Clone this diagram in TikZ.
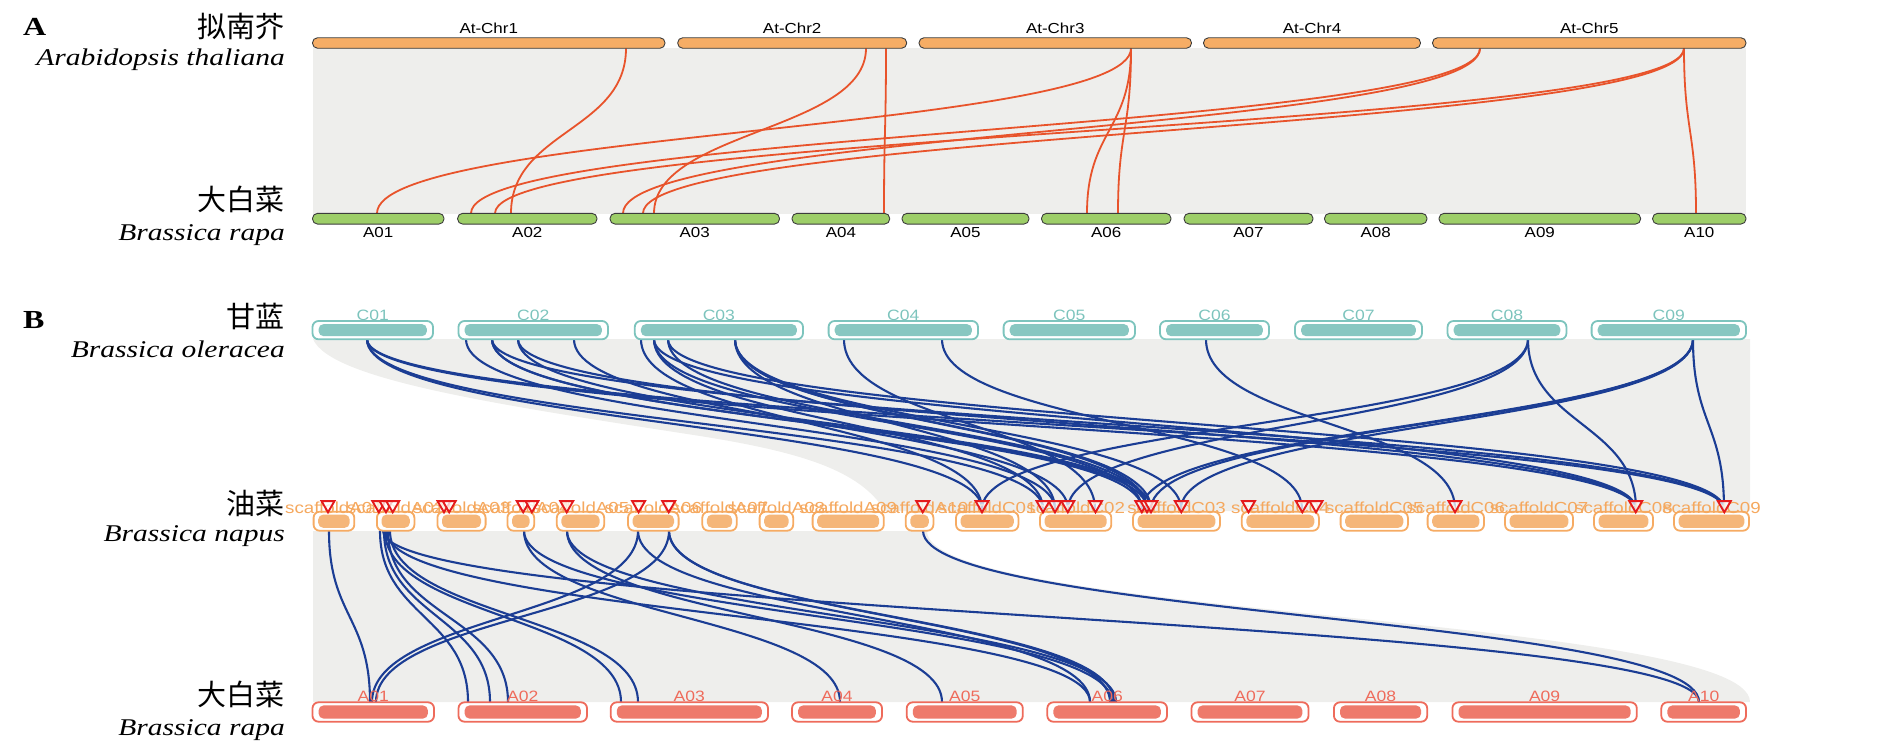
\documentclass[tikz,border=0pt]{standalone}
\usepackage{fontspec}
\usetikzlibrary{shapes.geometric}
\newfontfamily\serifw[FakeStretch=1.23]{Liberation Serif}
\newfontfamily\sansw[FakeStretch=1.17]{Liberation Sans}
\newfontfamily\cjk{Noto Sans CJK SC}
\definecolor{atfill}{HTML}{F6AD65}
\definecolor{brfill}{HTML}{9DCE68}
\definecolor{barline}{HTML}{3C3C3C}
\definecolor{tealc}{HTML}{88C7C1}
\definecolor{tealline}{HTML}{7DC4BD}
\definecolor{napfill}{HTML}{F5B679}
\definecolor{napline}{HTML}{F6AB63}
\definecolor{naptext}{HTML}{F5A85E}
\definecolor{raffill}{HTML}{EE7A6B}
\definecolor{rafline}{HTML}{EE6B5B}
\definecolor{redl}{HTML}{E8532B}
\definecolor{bluel}{HTML}{1B3D94}
\definecolor{trired}{HTML}{E41A1C}
\definecolor{ribbon}{HTML}{EEEEEC}
\begin{document}
\begin{tikzpicture}[x=1pt,y=-1pt,
  cn/.style={font=\cjk\fontsize{29}{32}\selectfont, anchor=base east, inner sep=0},
  sp/.style={font=\serifw\itshape\fontsize{24}{28}\selectfont, anchor=base east, inner sep=0},
  panel/.style={font=\serifw\bfseries\fontsize{26}{28}\selectfont, anchor=base west, inner sep=0},
  chrlab/.style={font=\sansw\fontsize{14.5}{16}\selectfont, anchor=base, inner sep=0},
  atbar/.style={draw=barline, fill=atfill, line width=0.9pt, rounded corners=5pt, minimum height=10.5pt, inner sep=0},
  brbar/.style={draw=barline, fill=brfill, line width=0.9pt, rounded corners=5pt, minimum height=10.7pt, inner sep=0},
  cbox/.style={draw=tealline, fill=white, line width=1.8pt, rounded corners=6pt, minimum height=18.3pt, inner sep=0},
  nbox/.style={draw=napline, fill=white, line width=1.8pt, rounded corners=6pt, minimum height=19pt, inner sep=0},
  rbox/.style={draw=rafline, fill=white, line width=1.8pt, rounded corners=6pt, minimum height=19.4pt, inner sep=0},
  clab/.style={font=\sansw\fontsize{15}{17}\selectfont, text=tealline, anchor=base, inner sep=0},
  nlab/.style={font=\sansw\fontsize{16}{18}\selectfont, text=naptext, anchor=base, inner sep=0},
  rlab/.style={font=\sansw\fontsize{15}{17}\selectfont, text=rafline, anchor=base, inner sep=0},
  redlink/.style={draw=redl, line width=1.8pt},
  bluelink/.style={draw=bluel, line width=2.1pt},
  tri/.style={regular polygon, regular polygon sides=3, shape border rotate=180, draw=trired, fill=white, fill opacity=0.75, draw opacity=1, line width=1.9pt, minimum size=15pt, inner sep=0}
]
\useasboundingbox (0,0) rectangle (1890,755);

% ---------- panel A ----------
\fill[ribbon] (313,48) rectangle (1746,213.5);
\node[panel] (pa) at (23,35) {A};
\node[cn] (atcn) at (285,37) {拟南芥};
\node[sp] (atsp) at (285,65) {Arabidopsis thaliana};
\node[cn] (brcnA) at (285,210) {大白菜};
\node[sp] (brspA) at (285,240) {Brassica rapa};

\foreach \a/\b in {626/511, 1131/377, 1131/1087, 1131/1118, 866/654, 886/884,
                   1480/471, 1480/623, 1684/495, 1684/643, 1684/1696}
  \draw[redlink] (\a,48.3) coordinate (rs) .. controls (\a,130.8) and (\b,130.8) .. (\b,213.3) coordinate (re);

\foreach \n/\cx/\w/\t in {at1/488.75/352.5/At-Chr1, at2/792.2/229/At-Chr2, at3/1055.25/272.5/At-Chr3,
                          at4/1312/217/At-Chr4, at5/1589.25/313.5/At-Chr5} {
  \node[atbar, minimum width=\w pt] (\n) at (\cx,43) {};
  \node[chrlab] (\n-l) at (\cx,33.3) {\t};
}
\foreach \n/\cx/\w/\t in {ga1/378.25/131.5/A01, ga2/527.3/139.4/A02, ga3/694.75/169.5/A03,
                          ga4/840.85/97.7/A04, ga5/965.5/127/A05, ga6/1106.25/129.5/A06,
                          ga7/1248.5/129/A07, ga8/1375.75/102.5/A08, ga9/1539.8/201.6/A09,
                          ga10/1699.3/93.4/A10} {
  \node[brbar, minimum width=\w pt] (\n) at (\cx,218.7) {};
  \node[chrlab] (\n-l) at (\cx,237.3) {\t};
}

% ---------- panel B ----------
\fill[ribbon] (313,339) -- (1750,339) -- (1750,511) -- (885,511)
  .. controls (860,470) and (800,452) .. (700,436)
  .. controls (500,405) and (330,380) .. (313,339) -- cycle;
\fill[ribbon] (313,531) -- (927,531) .. controls (927,616.5) and (1750,616.5) .. (1750,702) -- (313,702) -- cycle;

\node[panel] (pb) at (23,328) {B};
\node[cn] (olcn) at (285,327) {甘蓝};
\node[sp] (olsp) at (285,357) {Brassica oleracea};
\node[cn] (nacn) at (285,514) {油菜};
\node[sp] (nasp) at (285,541) {Brassica napus};
\node[cn] (brcnB) at (285,705) {大白菜};
\node[sp] (brspB) at (285,735) {Brassica rapa};

% links C -> napus
\foreach \a/\b in {367/982, 367/1043, 367/1636, 367/1724,
                   466/1055, 492/1142, 492/1147, 492/1724, 518/1151, 518/1636, 574/1068,
                   641/982, 654/1043, 654/1142, 654/1636, 668/1147, 668/1724,
                   735/1055, 735/1147, 735/1151, 735/1181,
                   844/1095, 942/1302, 1206/1455,
                   1528/982, 1528/1068, 1528/1636,
                   1693/1142, 1693/1151, 1693/1181, 1693/1724}
  \draw[bluelink] (\a,339.3) coordinate (bs) .. controls (\a,424) and (\b,424) .. (\b,509) coordinate (be);
% links napus -> rapa
\foreach \a/\b in {329/370, 380/468, 384/490, 388/508, 385/621, 390/638,
                   638/372, 669/376, 383/1699, 386/1090, 524/840, 567/942,
                   638/1090, 669/1110, 669/1114, 524/1112, 567/1116, 923/1699}
  \draw[bluelink] (\a,530.7) coordinate (bs) .. controls (\a,616.4) and (\b,616.4) .. (\b,702) coordinate (be);

% oleracea boxes
\foreach \n/\cx/\w/\t in {c1/372.75/120.5/C01, c2/533.25/149.5/C02, c3/718.9/168.2/C03,
                          c4/903.3/149.4/C04, c5/1069.3/131.4/C05, c6/1214.5/109/C06,
                          c7/1358.5/127/C07, c8/1507/118.9/C08, c9/1668.8/154.4/C09} {
  \node[cbox, minimum width=\w pt] (\n) at (\cx,330.15) {};
  \fill[tealc, rounded corners=5pt] ([xshift=7pt,yshift=4pt]\n.south west) rectangle ([xshift=-7pt,yshift=-4pt]\n.north east);
  \node[clab] (\n-l) at (\cx,320) {\t};
}
% napus boxes
\foreach \n/\cx/\w/\t in {n1/333.95/40.7/scaffoldA01, n2/395.65/37.5/scaffoldA02, n3/461.5/48.2/scaffoldA03,
                          n4/520.8/26.8/scaffoldA04, n5/580.5/47.4/scaffoldA05, n6/653.3/50.6/scaffoldA06,
                          n7/719.5/34.4/scaffoldA07, n8/776.4/33.6/scaffoldA08, n9/848.2/71.2/scaffoldA09,
                          n10/919.55/27.7/scaffoldA10, n11/987.2/62.4/scaffoldC01, n12/1075.65/71.3/scaffoldC02,
                          n13/1176.5/87/scaffoldC03, n14/1280.35/77.1/scaffoldC04, n15/1374.25/67.3/scaffoldC05,
                          n16/1455.8/56.4/scaffoldC06, n17/1539/68/scaffoldC07, n18/1623.5/59/scaffoldC08,
                          n19/1711.5/75/scaffoldC09} {
  \node[nbox, minimum width=\w pt] (\n) at (\cx,521.2) {};
  \fill[napfill, rounded corners=5pt] ([xshift=5.5pt,yshift=3.8pt]\n.south west) rectangle ([xshift=-5.5pt,yshift=-3.8pt]\n.north east);
}
\foreach \n/\cx/\w/\t in {n1/333.95/40.7/scaffoldA01, n2/395.65/37.5/scaffoldA02, n3/461.5/48.2/scaffoldA03,
                          n4/520.8/26.8/scaffoldA04, n5/580.5/47.4/scaffoldA05, n6/653.3/50.6/scaffoldA06,
                          n7/719.5/34.4/scaffoldA07, n8/776.4/33.6/scaffoldA08, n9/848.2/71.2/scaffoldA09,
                          n10/919.55/27.7/scaffoldA10, n11/987.2/62.4/scaffoldC01, n12/1075.65/71.3/scaffoldC02,
                          n13/1176.5/87/scaffoldC03, n14/1280.35/77.1/scaffoldC04, n15/1374.25/67.3/scaffoldC05,
                          n16/1455.8/56.4/scaffoldC06, n17/1539/68/scaffoldC07, n18/1623.5/59/scaffoldC08,
                          n19/1711.5/75/scaffoldC09}
  \node[nlab] (\n-l) at (\cx,513) {\t};
% markers
\foreach \x [count=\i] in {328, 378.8, 386, 392.7, 444, 449.2, 523.2, 531.9, 566.7, 638.6, 668.7,
                 922.7, 982, 1043, 1055, 1067.8, 1095.5, 1141.8, 1147, 1151, 1181.3,
                 1248.5, 1302.3, 1316, 1455, 1635.7, 1724.3}
  \node[tri] (m\i) at (\x,504.8) {};
% rapa boxes
\foreach \n/\cx/\w/\t in {r1/373.25/121.5/A01, r2/522.75/128.5/A02, r3/689.35/157.3/A03,
                          r4/837/90/A04, r5/964.75/116.1/A05, r6/1107.15/119.7/A06,
                          r7/1250/117/A07, r8/1380.55/93.3/A08, r9/1544.6/184.4/A09,
                          r10/1703.65/84.7/A10} {
  \node[rbox, minimum width=\w pt] (\n) at (\cx,712) {};
  \fill[raffill, rounded corners=5pt] ([xshift=7pt,yshift=4pt]\n.south west) rectangle ([xshift=-7pt,yshift=-4pt]\n.north east);
  \node[rlab] (\n-l) at (\cx,701.5) {\t};
}
\end{tikzpicture}
\end{document}
